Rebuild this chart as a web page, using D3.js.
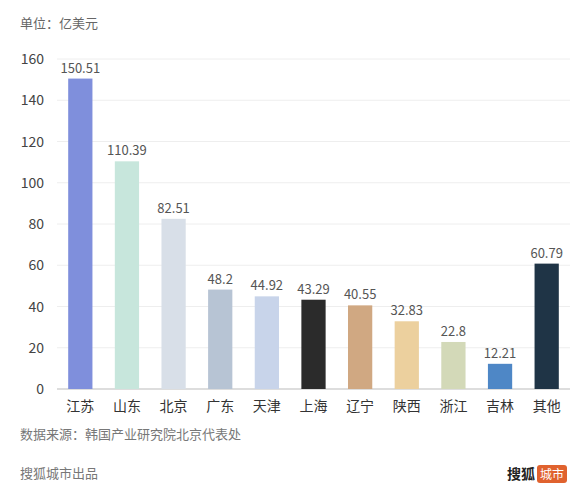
<!DOCTYPE html><html><head><meta charset="utf-8"><script src="https://cdn.jsdelivr.net/npm/d3@7"></script>
<style>body{margin:0;background:#fff;font-family:"Noto Sans CJK SC","Noto Sans",sans-serif}</style></head><body><svg id="c" width="588" height="500"></svg>
<script>
const categories=["江苏","山东","北京","广东","天津","上海","辽宁","陕西","浙江","吉林","其他"];
const values=[150.51,110.39,82.51,48.2,44.92,43.29,40.55,32.83,22.8,12.21,60.79];
const labels=["150.51","110.39","82.51","48.2","44.92","43.29","40.55","32.83","22.8","12.21","60.79"];
const colors=["#7f8fdc","#c7e6dc","#d8dfe8","#b7c4d4","#c8d4ea","#2b2b2b","#d0a882","#ecd09e","#d3d9b8","#4e87c6","#1f3446"];
const yTicks=[0,20,40,60,80,100,120,140,160];
const svg=d3.select("#c");
const x=d3.scaleBand().domain(categories).range([57,570]).paddingInner(0.48).paddingOuter(0.24);
const y=d3.scaleLinear().domain([0,160]).range([389,59]);
svg.append("text").attr("x",20).attr("y",28).attr("font-size",13).attr("fill","#666").text("单位：亿美元");
svg.selectAll(".g").data(yTicks).join("line").attr("x1",57).attr("x2",570).attr("y1",d=>y(d)).attr("y2",d=>y(d)).attr("stroke",d=>d===0?"#bbb":"#eee");
svg.selectAll(".yt").data(yTicks).join("text").attr("x",44).attr("y",d=>y(d)+5).attr("text-anchor","end").attr("font-size",14).attr("fill","#444").text(d=>d);
svg.selectAll(".b").data(values).join("rect").attr("x",(d,i)=>x(categories[i])).attr("width",x.bandwidth()).attr("y",d=>y(d)).attr("height",d=>389-y(d)).attr("fill",(d,i)=>colors[i]);
svg.selectAll(".vl").data(values).join("text").attr("x",(d,i)=>x(categories[i])+x.bandwidth()/2).attr("y",d=>y(d)-6).attr("text-anchor","middle").attr("font-size",13).attr("fill","#555").text((d,i)=>labels[i]);
svg.selectAll(".xl").data(categories).join("text").attr("x",d=>x(d)+x.bandwidth()/2).attr("y",411).attr("text-anchor","middle").attr("font-size",14).attr("fill","#333").text(d=>d);
svg.append("text").attr("x",20).attr("y",439).attr("font-size",13).attr("fill","#777").text("数据来源：韩国产业研究院北京代表处");
svg.append("text").attr("x",20).attr("y",478).attr("font-size",13).attr("fill","#777").text("搜狐城市出品");
svg.append("text").attr("x",507).attr("y",479).attr("font-size",14).attr("font-weight","bold").attr("fill","#222").text("搜狐");
svg.append("rect").attr("x",537).attr("y",465).attr("width",30).attr("height",18).attr("rx",3).attr("fill","#e0622e");
svg.append("text").attr("x",552).attr("y",479).attr("text-anchor","middle").attr("font-size",12).attr("fill","#fff").text("城市");
</script></body></html>
